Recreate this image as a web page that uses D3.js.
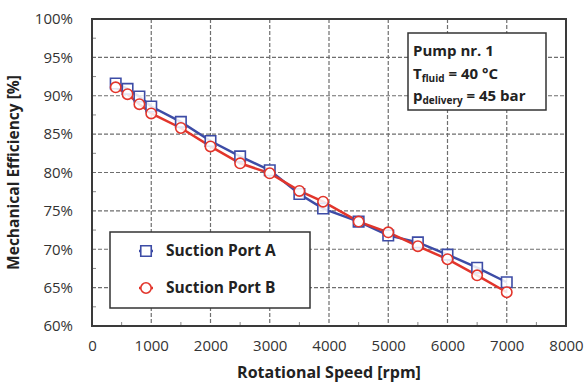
<!DOCTYPE html>
<html>
<head>
<meta charset="utf-8">
<script src="https://cdn.jsdelivr.net/npm/d3@7"></script>
<style>
  body { margin: 0; background: #fff; }
  svg text { font-family: "Open Sans", "Noto Sans", sans-serif; }
</style>
</head>
<body>
<div id="chart"></div>
<script>
// rotational speed [rpm] of the measured points
const speeds = [400, 600, 800, 1000, 1500, 2000, 2500, 3000, 3500, 3900, 4500, 5000, 5500, 6000, 6500, 7000];
// mechanical efficiency [%]
const portA = [91.6, 90.9, 89.9, 88.6, 86.6, 84.1, 82.1, 80.3, 77.2, 75.3, 73.6, 71.8, 70.9, 69.3, 67.6, 65.7];
const portB = [91.1, 90.2, 88.9, 87.7, 85.8, 83.4, 81.2, 79.9, 77.6, 76.2, 73.6, 72.2, 70.4, 68.7, 66.6, 64.4];
const seriesNames = ["Suction Port A", "Suction Port B"];
const xTicks = [0, 1000, 2000, 3000, 4000, 5000, 6000, 7000, 8000];
const yTicks = [60, 65, 70, 75, 80, 85, 90, 95, 100];

const width = 588, height = 386;
const margin = { top: 19, right: 22, bottom: 60, left: 92 };
const colors = ["#3d4ca6", "#e2352b"];

const x = d3.scaleLinear().domain([0, 8000]).range([margin.left, width - margin.right]);
const y = d3.scaleLinear().domain([60, 100]).range([height - margin.bottom, margin.top]);

const svg = d3.select("#chart").append("svg")
  .attr("width", width)
  .attr("height", height);

// 格線
svg.append("g")
  .selectAll("line")
  .data(xTicks.slice(1, -1))
  .join("line")
  .attr("x1", d => x(d)).attr("x2", d => x(d))
  .attr("y1", y(100)).attr("y2", y(60))
  .attr("stroke", "#6e6e6e").attr("stroke-width", 1.2)
  .attr("stroke-dasharray", "4,2");

svg.append("g")
  .selectAll("line")
  .data(yTicks.slice(1, -1))
  .join("line")
  .attr("x1", x(0)).attr("x2", x(8000))
  .attr("y1", d => y(d)).attr("y2", d => y(d))
  .attr("stroke", "#6e6e6e").attr("stroke-width", 1.2)
  .attr("stroke-dasharray", "4,2");

// minor ticks inside the frame
svg.append("g")
  .selectAll("line")
  .data(d3.range(500, 8000, 1000))
  .join("line")
  .attr("x1", d => x(d)).attr("x2", d => x(d))
  .attr("y1", y(60)).attr("y2", y(60) - 4)
  .attr("stroke", "#888");

svg.append("g")
  .selectAll("line")
  .data(d3.range(62.5, 100, 5))
  .join("line")
  .attr("x1", x(0)).attr("x2", x(0) + 4)
  .attr("y1", d => y(d)).attr("y2", d => y(d))
  .attr("stroke", "#888");

// axes
const xAxis = svg.append("g")
  .attr("transform", `translate(0,${y(60)})`)
  .call(d3.axisBottom(x).tickValues(xTicks).tickSize(0).tickPadding(14).tickFormat(d3.format("d")));
xAxis.select(".domain").remove();
xAxis.selectAll("text").attr("font-size", 15).attr("fill", "#333");

const yAxis = svg.append("g")
  .attr("transform", `translate(${x(0)},0)`)
  .call(d3.axisLeft(y).tickValues(yTicks).tickSize(0).tickPadding(19).tickFormat(d => d + "%"));
yAxis.select(".domain").remove();
yAxis.selectAll("text").attr("font-size", 15).attr("fill", "#333");

// frame
svg.append("rect")
  .attr("x", x(0)).attr("y", y(100))
  .attr("width", x(8000) - x(0)).attr("height", y(60) - y(100))
  .attr("fill", "none").attr("stroke", "#3a3a3a").attr("stroke-width", 2);

// axis titles
svg.append("text")
  .attr("x", (x(0) + x(8000)) / 2).attr("y", 378)
  .attr("text-anchor", "middle")
  .attr("font-size", 16).attr("font-weight", "bold").attr("fill", "#222")
  .text("Rotational Speed [rpm]");

svg.append("text")
  .attr("transform", `translate(19,${(y(60) + y(100)) / 2}) rotate(-90)`)
  .attr("text-anchor", "middle")
  .attr("font-size", 15.5).attr("font-weight", "bold").attr("fill", "#222")
  .text("Mechanical Efficiency [%]");

// series
const data = [portA, portB].map((vals, k) => ({
  name: seriesNames[k],
  color: colors[k],
  points: speeds.map((s, i) => ({ s, v: vals[i] }))
}));

const line = d3.line().x(d => x(d.s)).y(d => y(d.v));
const sym = [d3.symbol(d3.symbolSquare, 110), d3.symbol(d3.symbolCircle, 85)];

data.forEach((ser, k) => {
  svg.append("path")
    .attr("d", line(ser.points))
    .attr("fill", "none")
    .attr("stroke", ser.color)
    .attr("stroke-width", 2.5);
});

data.forEach((ser, k) => {
  svg.append("g")
    .selectAll("path")
    .data(ser.points)
    .join("path")
    .attr("transform", d => `translate(${x(d.s)},${y(d.v)})`)
    .attr("d", sym[k]())
    .attr("fill", "#fff")
    .attr("fill-opacity", 0.85)
    .attr("stroke", ser.color)
    .attr("stroke-width", 1.6);
});

// legend
const legend = svg.append("g");
legend.append("rect")
  .attr("x", 110).attr("y", 232)
  .attr("width", 200).attr("height", 76)
  .attr("fill", "#fff").attr("stroke", "#333").attr("stroke-width", 1.5);

data.forEach((ser, k) => {
  const ly = 251 + k * 37;
  legend.append("line")
    .attr("x1", 139).attr("x2", 153)
    .attr("y1", ly).attr("y2", ly)
    .attr("stroke", ser.color).attr("stroke-width", 2.5);
  legend.append("path")
    .attr("transform", `translate(146,${ly})`)
    .attr("d", sym[k]())
    .attr("fill", "#fff")
    .attr("stroke", ser.color)
    .attr("stroke-width", 1.6);
  legend.append("text")
    .attr("x", 166).attr("y", ly)
    .attr("dy", "0.35em")
    .attr("font-size", 15.5).attr("font-weight", "bold").attr("fill", "#222")
    .text(ser.name);
});

// info box
const info = svg.append("g");
info.append("rect")
  .attr("x", 408).attr("y", 33)
  .attr("width", 138).attr("height", 77)
  .attr("fill", "#fff").attr("stroke", "#333").attr("stroke-width", 1.5);

const t1 = info.append("text")
  .attr("x", 413).attr("y", 56)
  .attr("font-size", 15).attr("font-weight", "bold").attr("fill", "#222")
  .text("Pump nr. 1");

const t2 = info.append("text")
  .attr("x", 413).attr("y", 79)
  .attr("font-size", 15).attr("font-weight", "bold").attr("fill", "#222");
t2.append("tspan").text("T");
t2.append("tspan").attr("font-size", 10).attr("dy", 3).text("fluid");
t2.append("tspan").attr("dy", -3).text(" = 40 °C");

const t3 = info.append("text")
  .attr("x", 413).attr("y", 101)
  .attr("font-size", 15).attr("font-weight", "bold").attr("fill", "#222");
t3.append("tspan").text("p");
t3.append("tspan").attr("font-size", 10).attr("dy", 3).text("delivery");
t3.append("tspan").attr("dy", -3).text(" = 45 bar");
</script>
</body>
</html>
